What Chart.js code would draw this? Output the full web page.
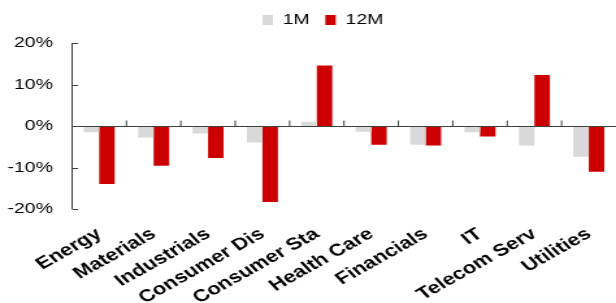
<!DOCTYPE html>
<html>
<head>
<meta charset="utf-8">
<script src="https://cdn.jsdelivr.net/npm/chart.js@4"></script>
<style>
  html, body { margin: 0; padding: 0; background: #fff; overflow: hidden; }
</style>
</head>
<body>
<!-- drawn at 474px wide and stretched to 616px, like the source chart -->
<canvas id="myChart" width="474" height="303" style="width:616px;height:303px"></canvas>
<script>
const categories = ['Energy', 'Materials', 'Industrials', 'Consumer Dis', 'Consumer Sta',
                    'Health Care', 'Financials', 'IT', 'Telecom Serv', 'Utilities'];
const oneMonth = [-1.5, -2.8, -1.8, -4.0, 1.0, -1.4, -4.5, -1.5, -4.7, -7.4];
const twelveMonth = [-14.0, -9.6, -7.7, -18.3, 14.6, -4.5, -4.7, -2.5, 12.3, -11.0];
const yTicks = [-20, -10, 0, 10, 20];

Chart.defaults.font.family = '"Liberation Sans", Arial, sans-serif';
Chart.defaults.color = '#000';

// axis line, inner ticks, zero line and category separators
const axisLines = {
    id: 'axisLines',
    afterLayout(chart) {
        // legend sits a little right of centre and close to the top
        chart.legend.left += 23;
        chart.legend.top -= 5.5;
    },
    afterDatasetsDraw(chart) {
        const { ctx, chartArea, scales: { x, y } } = chart;
        ctx.save();
        ctx.strokeStyle = '#404040';
        ctx.lineWidth = 1;
        const left = Math.round(chartArea.left) + 0.5;
        const zero = Math.round(y.getPixelForValue(0)) + 0.5;
        ctx.beginPath();
        ctx.moveTo(left, y.getPixelForValue(yTicks[yTicks.length - 1]));
        ctx.lineTo(left, y.getPixelForValue(yTicks[0]));
        yTicks.forEach(v => {
            const py = Math.round(y.getPixelForValue(v)) + 0.5;
            ctx.moveTo(left, py);
            ctx.lineTo(left + 4.6, py);
        });
        ctx.moveTo(left, zero);
        ctx.lineTo(chartArea.right, zero);
        const half = (x.getPixelForValue(1) - x.getPixelForValue(0)) / 2;
        categories.forEach((c, i) => {
            if (i === 0) return;
            const px = x.getPixelForValue(i) - half;
            ctx.moveTo(px, zero);
            ctx.lineTo(px, zero - 6);
        });
        ctx.stroke();
        ctx.restore();
    }
};

new Chart(document.getElementById('myChart'), {
    type: 'bar',
    data: {
        labels: categories,
        datasets: [
            { label: '1M', data: oneMonth, backgroundColor: '#d9d9d9' },
            { label: '12M', data: twelveMonth, backgroundColor: '#cc0000' }
        ]
    },
    options: {
        responsive: false,
        animation: false,
        layout: { padding: { top: 6 } },
        datasets: { bar: { categoryPercentage: 0.57, barPercentage: 1 } },
        plugins: {
            legend: {
                position: 'top',
                labels: { boxWidth: 8, boxHeight: 10, padding: 12, font: { size: 15 } }
            },
            tooltip: { enabled: false }
        },
        scales: {
            x: {
                grid: { display: false, drawTicks: false },
                border: { display: false },
                ticks: {
                    autoSkip: false, minRotation: 36, maxRotation: 36, padding: 15,
                    font: { size: 17, weight: 'bold' }
                },
                afterFit(s) {
                    s.height = 94;
                    // plot runs to the right edge
                    s.paddingLeft = 0;
                    s.paddingRight = 0;
                }
            },
            y: {
                min: yTicks[0],
                max: yTicks[yTicks.length - 1],
                grid: { display: false, drawTicks: false },
                border: { display: false },
                ticks: {
                    stepSize: 10, padding: 14.6,
                    font: { size: 15 },
                    callback: v => v + '%'
                },
                afterFit(s) { s.width = 55.4; }
            }
        }
    },
    plugins: [axisLines]
});
</script>
</body>
</html>
